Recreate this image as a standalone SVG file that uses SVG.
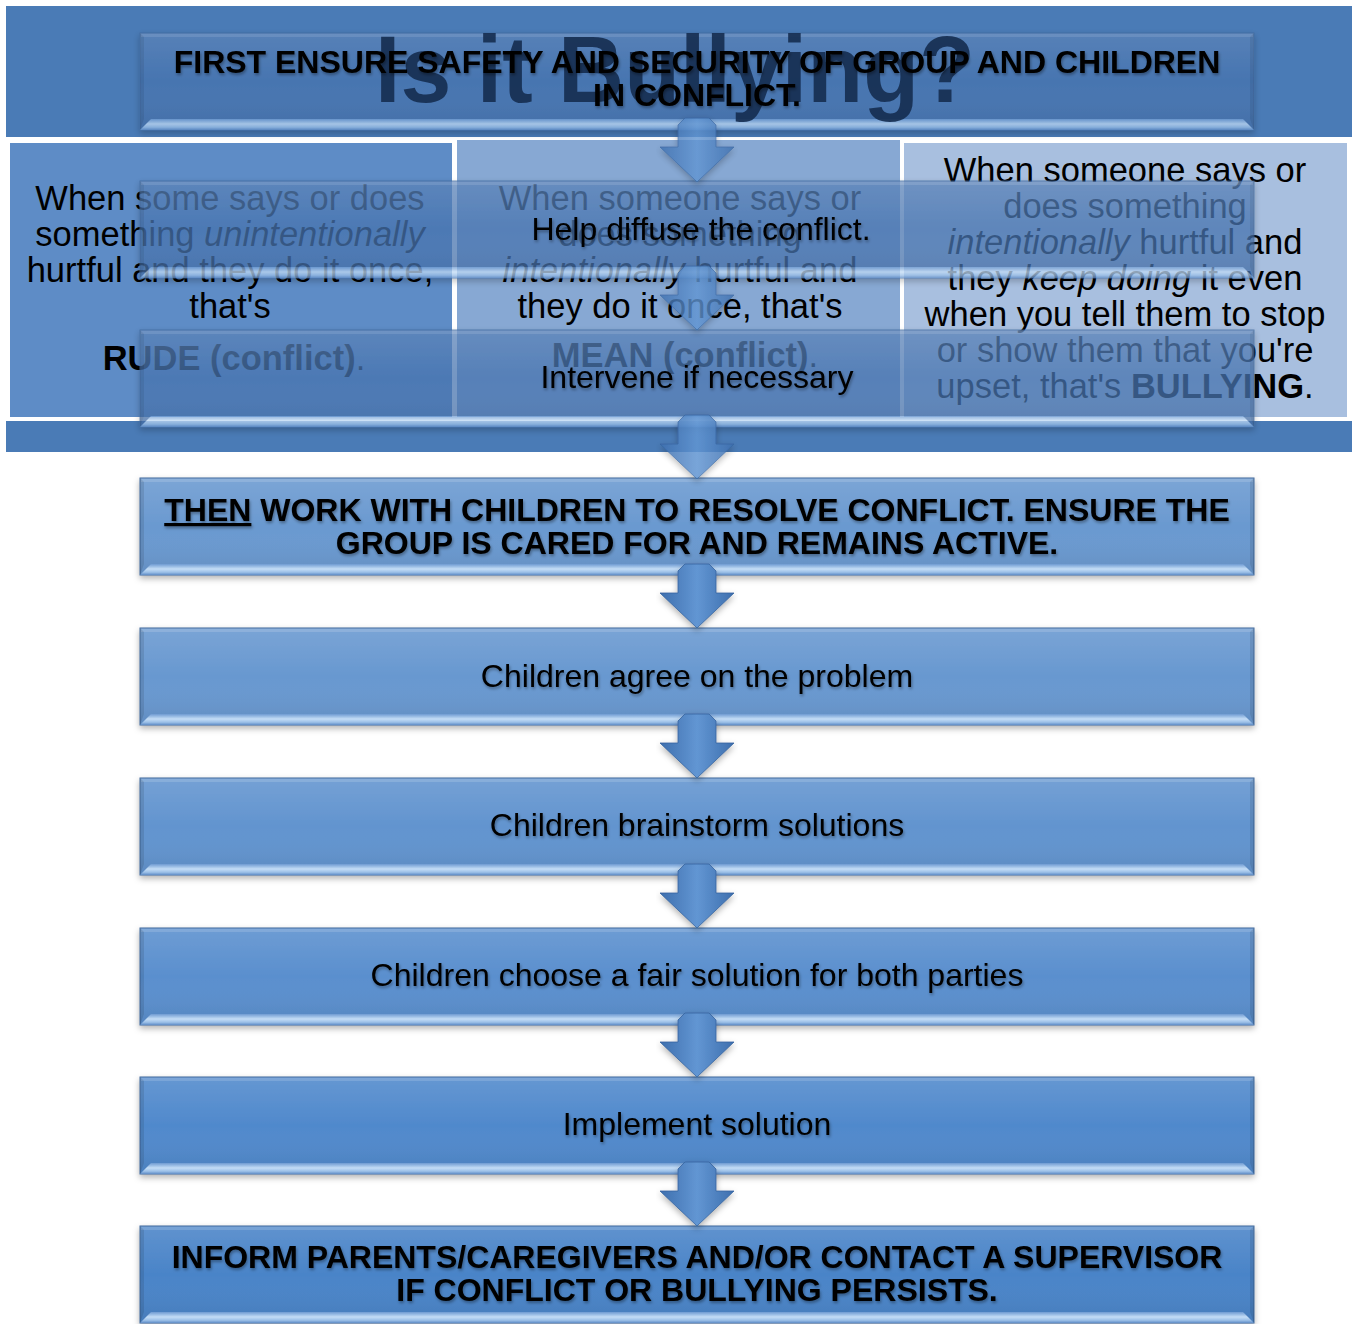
<svg xmlns="http://www.w3.org/2000/svg" xmlns:xlink="http://www.w3.org/1999/xlink" width="1352" height="1324" viewBox="0 0 1352 1324">
<style>
.bt{font-family:"Liberation Sans",Arial,sans-serif;font-weight:bold;font-size:32px;text-anchor:middle;fill:#000}
.nt{font-family:"Liberation Sans",Arial,sans-serif;font-size:32px;text-anchor:middle;fill:#000}
.pt{font-family:"Liberation Sans",Arial,sans-serif;font-size:34.5px;text-anchor:middle;fill:#000}
.title{font-family:"Liberation Sans",Arial,sans-serif;font-weight:bold;font-size:94px;text-anchor:middle;fill:#152d50}
.i{font-style:italic}
.b{font-weight:bold}
.lbl{filter:url(#ts)}
.arrow{fill:url(#arrG);stroke:#35639e;stroke-width:0.8}
</style>
<defs>
<filter id="sh" x="-5%" y="-20%" width="110%" height="150%">
<feDropShadow dx="0" dy="3" stdDeviation="3" flood-color="#000" flood-opacity="0.3"/>
</filter>
<filter id="ts" x="-5%" y="-30%" width="110%" height="170%">
<feDropShadow dx="1" dy="2" stdDeviation="1.6" flood-color="#000" flood-opacity="0.35"/>
</filter>
<linearGradient id="sheen" x1="0" y1="0" x2="0" y2="1">
<stop offset="0" stop-color="#fff" stop-opacity="0.12"/>
<stop offset="0.5" stop-color="#fff" stop-opacity="0"/>
<stop offset="1" stop-color="#000" stop-opacity="0.08"/>
</linearGradient>
<linearGradient id="bevel" x1="0" y1="0" x2="0" y2="1">
<stop offset="0" stop-color="#6f9bd2"/>
<stop offset="0.45" stop-color="#c4ddf6"/>
<stop offset="0.75" stop-color="#9cc0e8"/>
<stop offset="1" stop-color="#5f8cc6"/>
</linearGradient>
<linearGradient id="arrG" x1="0" y1="0" x2="1" y2="0">
<stop offset="0" stop-color="#3e6fae"/>
<stop offset="0.5" stop-color="#6296d3"/>
<stop offset="1" stop-color="#3e6fae"/>
</linearGradient>
<g id="boxShape">
<rect x="0" y="0" width="1114" height="97" stroke="#3e6699" stroke-width="1"/>
<rect x="0" y="0" width="1114" height="97" fill="url(#sheen)"/>
<rect x="1" y="1" width="1112" height="3" fill="#fff" fill-opacity="0.15"/>
<polygon points="0,0 4,4 4,86 0,97" fill="#000" fill-opacity="0.1"/>
<polygon points="1114,0 1110,4 1110,86 1114,97" fill="#000" fill-opacity="0.1"/>
<polygon points="0,97 11,86 1103,86 1114,97" fill="url(#bevel)"/>
</g>
<path id="arrowShape" d="M-12,-12 L12,-12 L19,-5 L19,17 L37,17 L0,52 L-37,17 L-19,17 L-19,-5 Z"/>
</defs>

<g id="background">
<rect x="6" y="6" width="1346" height="446" fill="#4a7bb6"/>
<rect x="6" y="137" width="1346" height="284" fill="#ffffff"/>
<rect x="10" y="143" width="442" height="274" fill="#5e8cc6"/>
<rect x="457" y="140" width="443" height="277" fill="#87a8d3"/>
<rect x="904" y="143" width="443" height="274" fill="#a8bfdf"/>
<g id="panel-rude">
<text class="pt" x="230" y="210">When some says or does</text>
<text class="pt" x="230" y="246">something <tspan class="i">unintentionally</tspan></text>
<text class="pt" x="230" y="282">hurtful and they do it once,</text>
<text class="pt" x="230" y="318">that's</text>
<text class="pt" x="234" y="370"><tspan class="b">RUDE (conflict)</tspan>.</text>
</g>
<g id="panel-mean">
<text class="pt" x="680" y="210">When someone says or</text>
<text class="pt" x="680" y="246">does something</text>
<text class="pt" x="680" y="282"><tspan class="i">intentionally</tspan> hurtful and</text>
<text class="pt" x="680" y="318">they do it once, that's</text>
<text class="pt" x="685" y="367"><tspan class="b">MEAN (conflict)</tspan>.</text>
</g>
<g id="panel-bullying">
<text class="pt" x="1125" y="182">When someone says or</text>
<text class="pt" x="1125" y="218">does something</text>
<text class="pt" x="1125" y="254"><tspan class="i">intentionally</tspan> hurtful and</text>
<text class="pt" x="1125" y="290">they <tspan class="i">keep doing</tspan> it even</text>
<text class="pt" x="1125" y="326">when you tell them to stop</text>
<text class="pt" x="1125" y="362">or show them that you're</text>
<text class="pt" x="1125" y="398">upset, that's <tspan class="b">BULLYING</tspan>.</text>
</g>
</g>

<g id="nodes">
<g id="box1">
<use xlink:href="#boxShape" x="140" y="33" fill="#4673af" opacity="0.75" filter="url(#sh)"/>
<text class="title" x="675" y="102" textLength="600" lengthAdjust="spacingAndGlyphs" opacity="0.9">Is it Bullying?</text>
<text class="bt lbl" x="697" y="73">FIRST ENSURE SAFETY AND SECURITY OF GROUP AND CHILDREN</text>
<text class="bt lbl" x="697" y="106">IN CONFLICT.</text>
</g>
<g id="box2">
<use xlink:href="#boxShape" x="140" y="181" fill="#4673af" opacity="0.75" filter="url(#sh)"/>
<text class="nt lbl" x="701" y="240">Help diffuse the conflict.</text>
</g>
<g id="box3">
<use xlink:href="#boxShape" x="140" y="330" fill="#4673af" opacity="0.75" filter="url(#sh)"/>
<text class="nt lbl" x="697" y="388">Intervene if necessary</text>
</g>
<g id="box4">
<use xlink:href="#boxShape" x="140" y="478" fill="#6a99d0" filter="url(#sh)"/>
<text class="bt lbl" x="697" y="521"><tspan text-decoration="underline">THEN</tspan> WORK WITH CHILDREN TO RESOLVE CONFLICT. ENSURE THE</text>
<text class="bt lbl" x="697" y="554">GROUP IS CARED FOR AND REMAINS ACTIVE.</text>
</g>
<g id="box5">
<use xlink:href="#boxShape" x="140" y="628" fill="#6898d0" filter="url(#sh)"/>
<text class="nt lbl" x="697" y="687">Children agree on the problem</text>
</g>
<g id="box6">
<use xlink:href="#boxShape" x="140" y="778" fill="#6294cf" filter="url(#sh)"/>
<text class="nt lbl" x="697" y="836">Children brainstorm solutions</text>
</g>
<g id="box7">
<use xlink:href="#boxShape" x="140" y="928" fill="#5a8fce" filter="url(#sh)"/>
<text class="nt lbl" x="697" y="986">Children choose a fair solution for both parties</text>
</g>
<g id="box8">
<use xlink:href="#boxShape" x="140" y="1077" fill="#5089cc" filter="url(#sh)"/>
<text class="nt lbl" x="697" y="1135">Implement solution</text>
</g>
<g id="box9">
<use xlink:href="#boxShape" x="140" y="1226" fill="#4a84c8" filter="url(#sh)"/>
<text class="bt lbl" x="697" y="1268">INFORM PARENTS/CAREGIVERS AND/OR CONTACT A SUPERVISOR</text>
<text class="bt lbl" x="697" y="1301">IF CONFLICT OR BULLYING PERSISTS.</text>
</g>
</g>

<g id="connectors">
<use xlink:href="#arrowShape" class="arrow" x="697" y="130" opacity="0.8" filter="url(#sh)"/>
<use xlink:href="#arrowShape" class="arrow" x="697" y="278" opacity="0.8" filter="url(#sh)"/>
<use xlink:href="#arrowShape" class="arrow" x="697" y="427" opacity="0.85" filter="url(#sh)"/>
<use xlink:href="#arrowShape" class="arrow" x="697" y="576" filter="url(#sh)"/>
<use xlink:href="#arrowShape" class="arrow" x="697" y="726" filter="url(#sh)"/>
<use xlink:href="#arrowShape" class="arrow" x="697" y="876" filter="url(#sh)"/>
<use xlink:href="#arrowShape" class="arrow" x="697" y="1025" filter="url(#sh)"/>
<use xlink:href="#arrowShape" class="arrow" x="697" y="1174" filter="url(#sh)"/>
</g>
</svg>
